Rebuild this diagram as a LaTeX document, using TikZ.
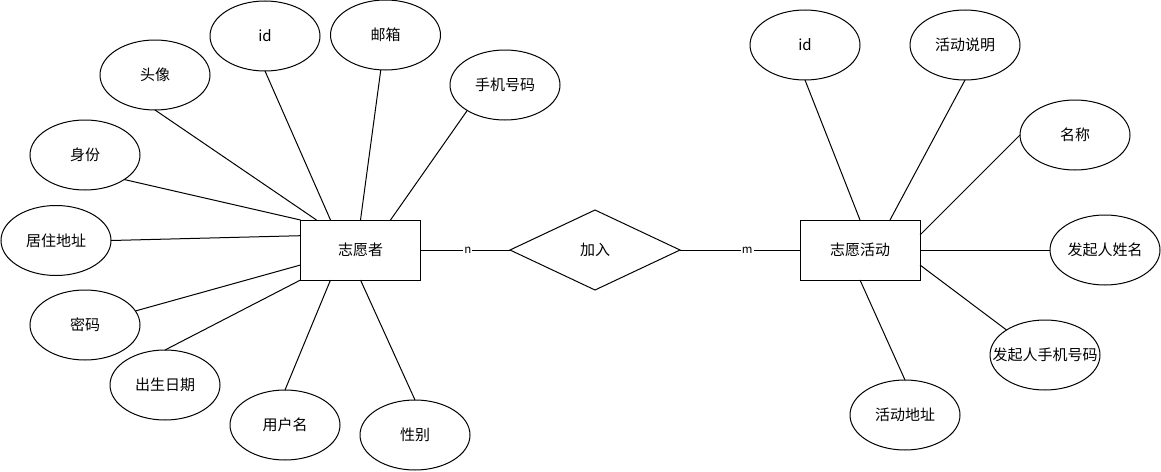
\documentclass[tikz,border=0pt]{standalone}
\usepackage{fontspec}
\setmainfont{Noto Sans CJK SC}
\usetikzlibrary{shapes.geometric}
\tikzset{
  base/.style={draw=black, line width=1pt, inner sep=0pt, outer sep=0pt, font=\fontsize{15pt}{17pt}\selectfont},
  entity/.style={base, rectangle, minimum width=120pt, minimum height=60pt},
  attr/.style={base, ellipse, minimum width=110pt, minimum height=70pt},
  rel/.style={base, diamond, minimum width=170pt, minimum height=80pt, shape aspect=2.125},
  link/.style={draw=black, line width=1pt},
  card/.style={fill=white, inner sep=1pt, font=\fontsize{11.5pt}{12pt}\selectfont}
}
\begin{document}
\begin{tikzpicture}[x=1pt, y=-1pt]
\useasboundingbox (0,0) rectangle (1161,471);
% entities and relationship
\node[entity] (v) at (360.5,250) {志愿者};
\node[entity] (act) at (860,250) {志愿活动};
\node[rel] (join) at (595,250) {加入};
% volunteer attributes
\node[attr] (vid) at (265,36) {id};
\node[attr] (mail) at (385.5,35) {邮箱};
\node[attr] (phone) at (505,85) {手机号码};
\node[attr] (avatar) at (155,75) {头像};
\node[attr] (ident) at (85,155) {身份};
\node[attr] (addr) at (56,240.5) {居住地址};
\node[attr] (pwd) at (85,325) {密码};
\node[attr] (birth) at (165,385) {出生日期};
\node[attr] (uname) at (285,425) {用户名};
\node[attr] (sex) at (415,435) {性别};
% activity attributes
\node[attr] (aid) at (805,45) {id};
\node[attr] (desc) at (965,45) {活动说明};
\node[attr] (name) at (1075,135) {名称};
\node[attr] (oname) at (1105,250) {发起人姓名};
\node[attr] (ophone) at (1045,355) {\makebox[0pt]{发起人手机号码}};
\node[attr] (aaddr) at (905,415) {活动地址};
% volunteer links
\draw[link] (avatar.south) -- ([xshift=16pt]v.north west);
\draw[link] (vid.south) -- ([xshift=30pt]v.north west);
\draw[link] (mail) -- (v.north);
\draw[link] (phone.214) -- ([xshift=-30pt]v.north east);
\draw[link] (ident.328) -- (v.north west);
\draw[link] (addr.east) -- ([yshift=-15.7pt]v.north west);
\draw[link] (pwd) -- ([yshift=15pt]v.south west);
\draw[link] (birth.north) -- (v.south west);
\draw[link] (uname.north) -- ([xshift=30pt]v.south west);
\draw[link] (sex.north) -- (v.south);
% activity links
\draw[link] (aid.south) -- (act.north);
\draw[link] (desc.south) -- ([xshift=30pt]act.north);
\draw[link] (name.west) -- ([yshift=-15pt]act.north east);
\draw[link] (oname.west) -- (act.east);
\draw[link] (ophone.147) -- ([yshift=15pt]act.south east);
\draw[link] (aaddr.north) -- (act.south);
% relationship links
\draw[link] (v.east) -- node[card, pos=0.53] {n} (join.west);
\draw[link] (join.east) -- node[card, pos=0.56] {m} (act.west);
\end{tikzpicture}
\end{document}
